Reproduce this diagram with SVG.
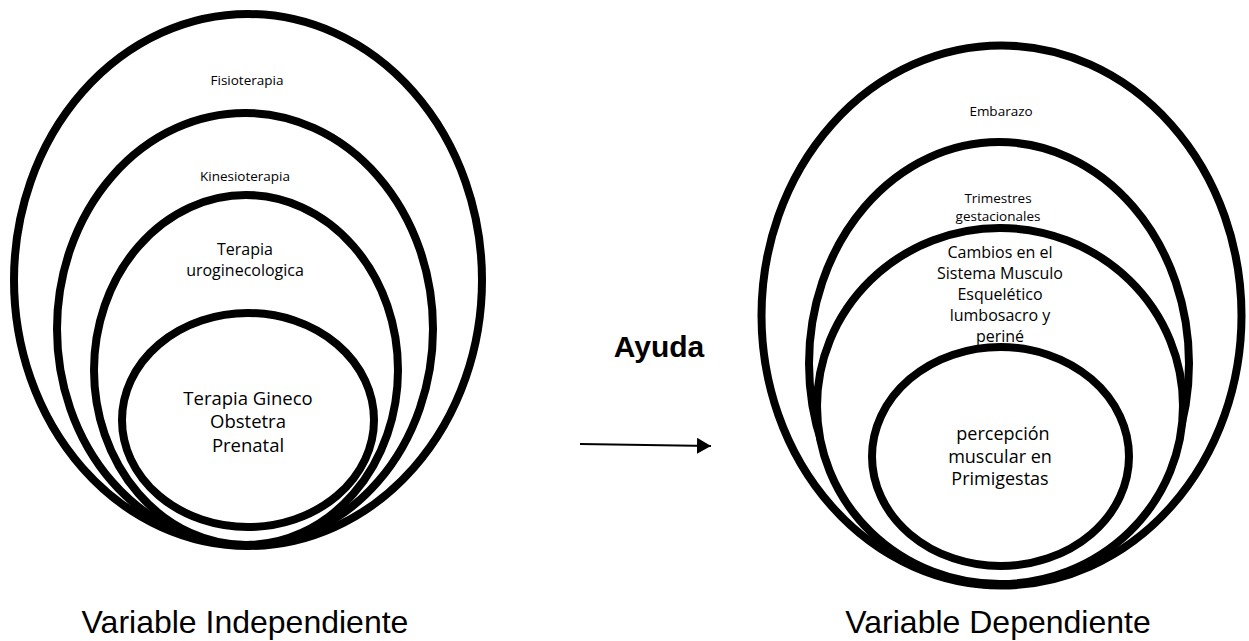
<svg xmlns="http://www.w3.org/2000/svg" width="1249" height="641" viewBox="0 0 1249 641">
  <style>
    .ring { fill: #ffffff; stroke: #000000; stroke-width: 8; }
    .lbl { font-family: "Open Sans", "Noto Sans", "Liberation Sans", sans-serif; fill: #000000; text-anchor: middle; }
    .sm { font-size: 13.5px; }
    .md { font-size: 16px; }
    .lg { font-size: 18px; }
    .xl { font-size: 18.5px; }
    .caption { font-family: "Liberation Sans", Arial, sans-serif; font-size: 32px; fill: #000000; text-anchor: middle; }
    .verb { font-family: "Liberation Sans", Arial, sans-serif; font-size: 30px; font-weight: bold; fill: #000000; text-anchor: middle; }
  </style>
  <defs>
    <marker id="head" viewBox="0 0 14 16" refX="14" refY="8" markerWidth="14" markerHeight="16" markerUnits="userSpaceOnUse" orient="auto">
      <path d="M0,0 L14,8 L0,16 Z" fill="#000000"/>
    </marker>
  </defs>
  <rect width="1249" height="641" fill="#ffffff"/>

  <!-- Independent variable: nested sets -->
  <g id="fisioterapia">
    <ellipse class="ring" cx="248" cy="280" rx="234" ry="266"/>
    <text class="lbl sm" x="247" y="85">Fisioterapia</text>
  </g>
  <g id="kinesioterapia">
    <ellipse class="ring" cx="245" cy="329" rx="188" ry="216"/>
    <text class="lbl sm" x="245" y="181">Kinesioterapia</text>
  </g>
  <g id="terapia-uroginecologica">
    <ellipse class="ring" cx="246" cy="370" rx="152" ry="175"/>
    <text class="lbl md" x="245" y="255">Terapia</text>
    <text class="lbl md" x="245" y="276">uroginecologica</text>
  </g>
  <g id="terapia-gineco-obstetra">
    <ellipse class="ring" cx="248" cy="420" rx="126" ry="107"/>
    <text class="lbl xl" x="248" y="405">Terapia Gineco</text>
    <text class="lbl xl" x="248" y="428">Obstetra</text>
    <text class="lbl xl" x="248" y="452">Prenatal</text>
  </g>
  <text id="caption-independiente" class="caption" x="245" y="633">Variable Independiente</text>

  <!-- Dependent variable: nested sets -->
  <g id="embarazo">
    <ellipse class="ring" cx="1001.5" cy="315.5" rx="240" ry="270"/>
    <text class="lbl sm" x="1001" y="116">Embarazo</text>
  </g>
  <g id="trimestres">
    <ellipse class="ring" cx="999" cy="363.5" rx="190" ry="221.5"/>
    <text class="lbl sm" x="998" y="203">Trimestres</text>
    <text class="lbl sm" x="998" y="221">gestacionales</text>
  </g>
  <g id="cambios-musculo-esqueleticos">
    <ellipse class="ring" cx="1000" cy="406" rx="183" ry="178"/>
    <text class="lbl md" x="1000" y="258">Cambios en el</text>
    <text class="lbl md" x="1000" y="279">Sistema Musculo</text>
    <text class="lbl md" x="1000" y="300">Esquelético</text>
    <text class="lbl md" x="1000" y="321">lumbosacro y</text>
    <text class="lbl md" x="1000" y="342">periné</text>
  </g>
  <g id="percepcion-muscular">
    <ellipse class="ring" cx="1000.5" cy="456.5" rx="128.5" ry="109.5"/>
    <text class="lbl lg" x="1003" y="440">percepción</text>
    <text class="lbl lg" x="1000" y="463">muscular en</text>
    <text class="lbl lg" x="1000" y="485">Primigestas</text>
  </g>
  <text id="caption-dependiente" class="caption" x="998" y="633">Variable Dependiente</text>

  <!-- Relation between the two variables -->
  <g id="connectors">
    <text class="verb" x="659" y="357">Ayuda</text>
    <line x1="580" y1="444" x2="711" y2="446" stroke="#000000" stroke-width="2.2" marker-end="url(#head)"/>
  </g>
</svg>
